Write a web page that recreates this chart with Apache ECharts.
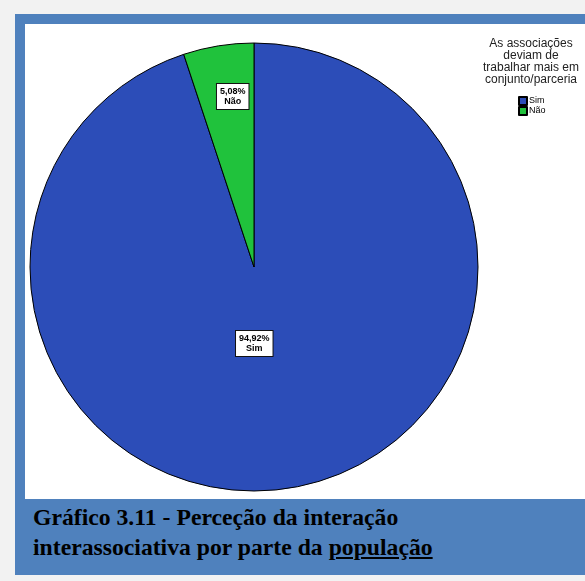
<!DOCTYPE html>
<html>
<head>
<meta charset="utf-8">
<script src="https://cdn.jsdelivr.net/npm/echarts@6/dist/echarts.min.js"></script>
<style>
  html, body { margin: 0; padding: 0; background: #f2f2f2; }
  body { width: 585px; height: 581px; position: relative; overflow: hidden; }
  #frame {
    position: absolute; left: 15px; top: 14px; width: 600px; height: 561px;
    background: #4f81bd;
  }
  #chart {
    position: absolute; left: 25px; top: 24px; width: 560px; height: 475px;
    background: #fff;
  }
  #caption {
    position: absolute; left: 33px; top: 502px;
    font-family: "Liberation Serif", "Times New Roman", serif;
    font-weight: bold; font-size: 23.7px; line-height: 30px; color: #000;
  }
</style>
</head>
<body>
<div id="frame"></div>
<div id="chart"></div>
<div id="caption">Gráfico 3.11 - Perceção da interação<br>interassociativa por parte da <u>população</u></div>
<script>
const categories = ["Sim", "Não"];
const percentages = [94.92, 5.08];
const sliceColors = ["#2c4db8", "#20c23c"];
const legendTitle = "As associações\ndeviam de\ntrabalhar mais em\nconjunto/parceria";
// label nudges from the default inside position, per slice
const labelShift = [[-18, -37], [-3, -57]];

const chart = echarts.init(document.getElementById("chart"));

chart.setOption({
  animation: false,
  backgroundColor: "#fff",
  graphic: [
    {
      type: "text",
      x: 506,
      y: 14,
      style: {
        text: legendTitle,
        align: "center",
        verticalAlign: "top",
        fontSize: 12,
        lineHeight: 12,
        fontFamily: "Liberation Sans, Arial, sans-serif",
        fill: "#222"
      }
    }
  ],
  legend: {
    orient: "vertical",
    left: 493,
    top: 72,
    padding: 0,
    itemWidth: 8,
    itemHeight: 8,
    itemGap: 0,
    icon: "rect",
    selectedMode: false,
    textStyle: {
      fontSize: 9,
      lineHeight: 8,
      padding: [0, 0, 0, -3],
      color: "#000",
      fontFamily: "Liberation Sans, Arial, sans-serif"
    },
    data: categories
  },
  series: [
    {
      type: "pie",
      center: [229, 243],
      radius: 224,
      startAngle: 90,
      clockwise: true,
      silent: true,
      itemStyle: { borderColor: "#000", borderWidth: 1 },
      label: {
        show: true,
        position: "inside",
        formatter: (p) => p.value.toFixed(2).replace(".", ",") + "%\n" + p.name,
        backgroundColor: "#fff",
        borderColor: "#111",
        borderWidth: 1,
        padding: [2, 3, 3, 3],
        color: "#000",
        fontSize: 9,
        lineHeight: 10,
        fontWeight: "bold",
        fontFamily: "Liberation Sans, Arial, sans-serif",
        align: "center"
      },
      labelLine: { show: false },
      labelLayout: (p) => ({ dx: labelShift[p.dataIndex][0], dy: labelShift[p.dataIndex][1] }),
      data: categories.map((c, i) => ({
        name: c,
        value: percentages[i],
        itemStyle: { color: sliceColors[i] }
      }))
    }
  ]
});
</script>
</body>
</html>
